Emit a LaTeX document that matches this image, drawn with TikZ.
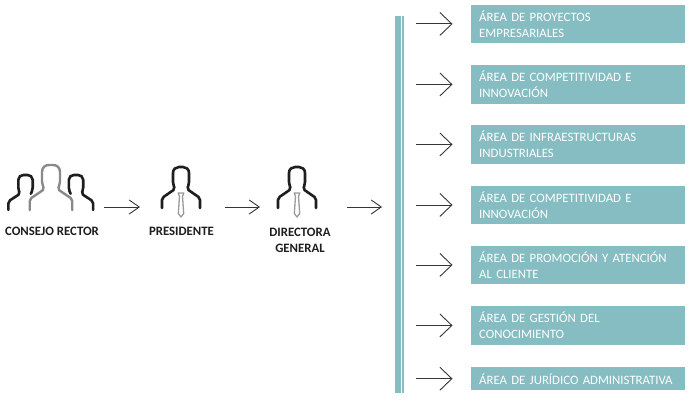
\documentclass[tikz,border=0pt]{standalone}
\usepackage{fontspec}
\setmainfont{Carlito}
\usetikzlibrary{arrows.meta}
\definecolor{teal1}{HTML}{85BDC2}
\definecolor{ink}{HTML}{1E1E1E}
\definecolor{grayfig}{HTML}{8A8A8A}
\definecolor{tiegray}{HTML}{9A9A9A}
\tikzset{
  areabox/.style={fill=teal1, text=white, text width=198pt, inner xsep=8pt, inner ysep=0pt,
    minimum height=38.5pt, align=left, anchor=north west,
    font=\fontsize{12.8pt}{15.7pt}\selectfont},
  lab/.style={text=ink, align=center, inner sep=0pt, font=\fontsize{12.8pt}{16pt}\selectfont\bfseries},
  bigarr/.style={draw=ink!90, line width=0.9pt, -{Straight Barb[length=12pt,width=23pt]}},
  smallarr/.style={draw=ink!90, line width=0.9pt, -{Straight Barb[length=10pt,width=14pt]}},
  figline/.style={draw=ink, line width=2.6pt, rounded corners=2pt, line cap=round},
  grayline/.style={draw=grayfig, line width=2.4pt, rounded corners=2pt, line cap=round},
  tieline/.style={draw=tiegray, line width=1.3pt, line join=round},
  person/.pic={
    \path[pic actions] (-19,41) -- (-19,31) -- (-6,22) -- (-8,17) -- (-8,8)
      .. controls (-8,2) and (-5,0) .. (0,0) .. controls (5,0) and (8,2) .. (8,8)
      -- (8,17) -- (6,22) -- (19,31) -- (19,41);
  },
  personL/.pic={
    \path[pic actions] (-19,41) -- (-19,31) -- (-6,22) -- (-8,17) -- (-8,8)
      .. controls (-8,2) and (-5,0) .. (0,0) .. controls (5,0) and (8,2) .. (8,8)
      -- (8,17) -- (6,22);
  },
  personR/.pic={
    \path[pic actions] (-6,22) -- (-8,17) -- (-8,8)
      .. controls (-8,2) and (-5,0) .. (0,0) .. controls (5,0) and (8,2) .. (8,8)
      -- (8,17) -- (6,22) -- (19,31) -- (19,41);
  },
  tie/.pic={
    \path[pic actions] (-2.8,26) -- (2.8,26) -- (1.5,29.5) -- (2.7,46.5) -- (0,50)
      -- (-2.7,46.5) -- (-1.5,29.5) -- cycle;
  }
}
\begin{document}
\begin{tikzpicture}[x=1pt,y=-1pt]
\useasboundingbox[fill=white] (0,0) rectangle (700,401);

% icons
\coordinate (crI) at (51,165);
\coordinate (prI) at (181,167);
\coordinate (diI) at (297,167);
\pic[figline, xscale=0.9, yscale=0.85] at (25.5,175) {personL};
\pic[figline, xscale=0.9, yscale=0.85] at (76,175) {personR};
\pic[grayline, xscale=1.12, yscale=1.1] at (crI) {person};
\pic[figline] at (prI) {person};
\pic[tieline] at (prI) {tie};
\pic[figline] at (diI) {person};
\pic[tieline] at (diI) {tie};

% labels
\node[lab, anchor=base] (crL) at (52,235.5) {CONSEJO RECTOR};
\node[lab, anchor=base] (prL) at (181.5,235.5) {PRESIDENTE};
\node[lab] (diL) at (300,240) {DIRECTORA\\GENERAL};

% left arrows
\coordinate (a1s) at (104,207); \coordinate (a1e) at (140,207);
\coordinate (a2s) at (225,207); \coordinate (a2e) at (260,207);
\coordinate (a3s) at (347,207); \coordinate (a3e) at (382,207);
\draw[smallarr] (a1s) -- (a1e);
\draw[smallarr] (a2s) -- (a2e);
\draw[smallarr] (a3s) -- (a3e);

% vertical bar
\fill[teal1] (395,15.7) rectangle (400.6,393);
\fill[teal1] (401.6,15.7) rectangle (404,393);

% area boxes
\node[areabox] (b1) at (471,4.5) {ÁREA DE PROYECTOS\\EMPRESARIALES};
\node[areabox] (b2) at (471,65) {ÁREA DE COMPETITIVIDAD E\\INNOVACIÓN};
\node[areabox] (b3) at (471,125) {ÁREA DE INFRAESTRUCTURAS\\INDUSTRIALES};
\node[areabox] (b4) at (471,185.5) {ÁREA DE COMPETITIVIDAD E\\INNOVACIÓN};
\node[areabox] (b5) at (471,245.5) {ÁREA DE PROMOCIÓN Y ATENCIÓN\\AL CLIENTE};
\node[areabox] (b6) at (471,306) {ÁREA DE GESTIÓN DEL\\CONOCIMIENTO};
\node[areabox, minimum height=23pt] (b7) at (471,367) {ÁREA DE JURÍDICO ADMINISTRATIVA};

% right arrows
\foreach \b in {b1,b2,b3,b4,b5,b6,b7}{
  \draw[bigarr] ([xshift=-55pt]\b.west) -- ([xshift=-18.5pt]\b.west);
}
\end{tikzpicture}
\end{document}
